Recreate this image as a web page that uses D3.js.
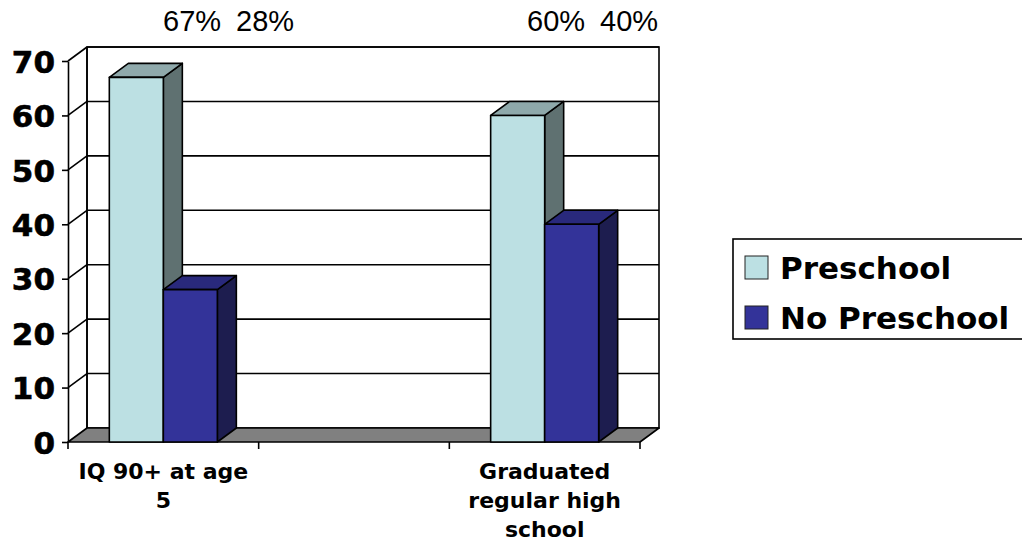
<!DOCTYPE html>
<html>
<head>
<meta charset="utf-8">
<script src="https://cdn.jsdelivr.net/npm/d3@7"></script>
<style>
  body { margin: 0; background: #fff; }
  svg { display: block; }
</style>
</head>
<body>
<svg id="chart" width="1022" height="544"></svg>
<script>
// ---- data ----
const categories = ["IQ 90+ at age 5", "", "Graduated regular high school"];
const seriesNames = ["Preschool", "No Preschool"];
const preschool = [67, null, 60];
const noPreschool = [28, null, 40];
const yTicks = [0, 10, 20, 30, 40, 50, 60, 70];

// ---- layout & style ----
const series = [preschool, noPreschool];
const frontFill = ["#BCE0E3", "#333399"];
const sideFill = ["#5F7171", "#1D1D4F"];
const topFill = ["#8FA9AB", "#29297C"];
const plot = { left: 68, right: 640, top: 61, bottom: 442 };
const depth = { dx: 19, dy: -14 };
const boldFont = "'DejaVu Sans', Verdana, sans-serif";
const noteX = [163, null, 527];   // left edge of the percentage notes per category
const noteGap = 73;

const svg = d3.select("#chart");

const y = d3.scaleLinear().domain([0, 70]).range([plot.bottom, plot.top]);
const x0 = d3.scaleBand().domain(categories).range([plot.left, plot.right]);
const x1 = d3.scaleBand().domain(seriesNames).range([0, x0.bandwidth()]).paddingOuter(0.765);

const line = (g, x1_, y1_, x2_, y2_) =>
  g.append("line").attr("x1", x1_).attr("y1", y1_).attr("x2", x2_).attr("y2", y2_)
   .attr("stroke", "#000").attr("stroke-width", 1.6);

// ---- walls and floor ----
const walls = svg.append("g");
const backL = plot.left + depth.dx, backR = plot.right + depth.dx;

walls.append("rect")
  .attr("x", backL).attr("y", y(70) + depth.dy)
  .attr("width", backR - backL).attr("height", y(0) - y(70))
  .attr("fill", "#fff").attr("stroke", "#000").attr("stroke-width", 1.6);

walls.append("polygon")
  .attr("points", [[plot.left, y(0)], [plot.right, y(0)], [backR, y(0) + depth.dy], [backL, y(0) + depth.dy]].join(" "))
  .attr("fill", "#808080").attr("stroke", "#000").attr("stroke-width", 1.6).attr("stroke-linejoin", "round");

// gridlines along side wall and back wall
yTicks.filter(t => t > 0).forEach(t => {
  line(walls, plot.left, y(t), backL, y(t) + depth.dy);
  line(walls, backL, y(t) + depth.dy, backR, y(t) + depth.dy);
});
line(walls, backL, y(0) + depth.dy, backL, y(70) + depth.dy);

// ---- y axis ----
const yAxis = svg.append("g")
  .attr("transform", `translate(${plot.left},0)`)
  .call(d3.axisLeft(y).tickValues(yTicks).tickSize(6).tickSizeOuter(0).tickPadding(7));
yAxis.select(".domain").attr("stroke", "#000").attr("stroke-width", 1.6);
yAxis.selectAll(".tick line").attr("stroke", "#000").attr("stroke-width", 1.6);
yAxis.selectAll(".tick text")
  .attr("font-family", boldFont).attr("font-weight", "bold")
  .attr("font-size", 31).attr("fill", "#000").attr("dy", "0.36em")
  .attr("stroke", "#000").attr("stroke-width", 0.6);

// ---- x axis ----
const xAxis = svg.append("g")
  .attr("transform", `translate(0,${plot.bottom})`)
  .call(d3.axisBottom(x0).tickSize(0).tickPadding(0));
xAxis.select(".domain").remove();

// category boundary ticks
const edges = categories.map(c => x0(c)).concat([x0(categories[categories.length - 1]) + x0.bandwidth()]);
xAxis.selectAll("line.edge").data(edges).join("line").attr("class", "edge")
  .attr("x1", d => d).attr("x2", d => d).attr("y1", 0).attr("y2", 7)
  .attr("stroke", "#000").attr("stroke-width", 1.6);

function wrap(text, width) {
  text.each(function () {
    const t = d3.select(this);
    const words = t.text().split(/\s+/).filter(Boolean);
    t.text(null).attr("y", 37).attr("dy", 0);
    let lineWords = [];
    let tspan = t.append("tspan").attr("x", 0).attr("dy", 0);
    words.forEach(w => {
      lineWords.push(w);
      tspan.text(lineWords.join(" "));
      if (tspan.node().getComputedTextLength() > width && lineWords.length > 1) {
        lineWords.pop();
        tspan.text(lineWords.join(" "));
        lineWords = [w];
        tspan = t.append("tspan").attr("x", 0).attr("dy", 29).text(w);
      }
    });
  });
}
xAxis.selectAll(".tick text")
  .attr("font-family", boldFont).attr("font-weight", "bold")
  .attr("font-size", 22).attr("fill", "#000")
  .call(wrap, 182);

// ---- bars ----
const bars = svg.append("g").attr("stroke", "#000").attr("stroke-width", 1.6).attr("stroke-linejoin", "round");
categories.forEach((cat, i) => {
  series.forEach((vals, s) => {
    const v = vals[i];
    if (v == null) return;
    const xl = x0(cat) + x1(seriesNames[s]);
    const w = x1.bandwidth();
    const xr = xl + w;
    const yt = y(v), yb = y(0);
    const g = bars.append("g");
    g.append("polygon")
      .attr("points", [[xr, yb], [xr + depth.dx, yb + depth.dy], [xr + depth.dx, yt + depth.dy], [xr, yt]].join(" "))
      .attr("fill", sideFill[s]);
    g.append("polygon")
      .attr("points", [[xl, yt], [xl + depth.dx, yt + depth.dy], [xr + depth.dx, yt + depth.dy], [xr, yt]].join(" "))
      .attr("fill", topFill[s]);
    g.append("rect")
      .attr("x", xl).attr("y", yt).attr("width", w).attr("height", yb - yt)
      .attr("fill", frontFill[s]);
  });
});

// ---- percentage notes ----
const notes = svg.append("g")
  .attr("font-family", "'Liberation Sans', Arial, sans-serif")
  .attr("font-size", 29).attr("fill", "#000");
categories.forEach((cat, i) => {
  if (noteX[i] == null) return;
  series.forEach((vals, s) => {
    notes.append("text")
      .attr("x", noteX[i] + s * noteGap).attr("y", 31)
      .text(`${vals[i]}%`);
  });
});

// ---- legend ----
const legend = svg.append("g");
legend.append("rect")
  .attr("x", 733).attr("y", 239).attr("width", 320).attr("height", 100)
  .attr("fill", "#fff").attr("stroke", "#000").attr("stroke-width", 1.6);
seriesNames.forEach((name, s) => {
  const row = legend.append("g").attr("transform", `translate(745,${256 + s * 50})`);
  row.append("rect").attr("width", 23).attr("height", 23)
    .attr("fill", frontFill[s]).attr("stroke", "#222").attr("stroke-width", 1);
  row.append("text")
    .attr("x", 35).attr("y", 23)
    .attr("font-family", boldFont).attr("font-weight", "bold")
    .attr("font-size", 31).attr("fill", "#000")
    .text(name);
});
</script>
</body>
</html>
